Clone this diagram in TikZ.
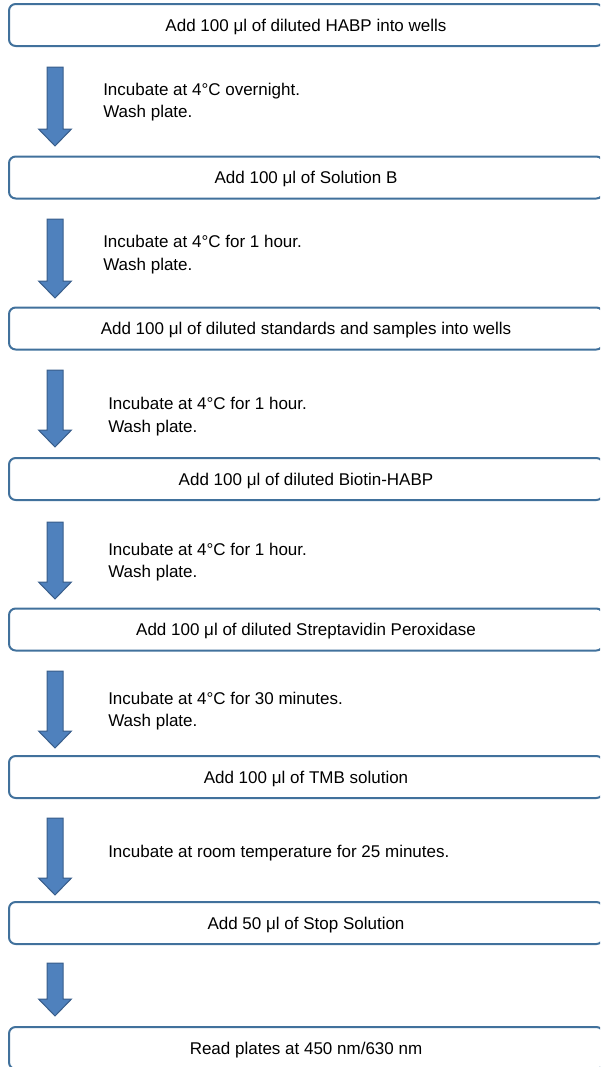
\documentclass[tikz,border=0pt]{standalone}
\usepackage{fontspec}
\setmainfont{Liberation Sans}
\definecolor{stepline}{RGB}{65,113,156}
\definecolor{arrowfill}{RGB}{79,129,189}
\definecolor{arrowline}{RGB}{56,93,138}

\begin{document}
\begin{tikzpicture}[x=0.75pt,y=-0.75pt,
  stepbox/.style={draw=stepline,line width=1.5pt,rounded corners=5pt,fill=white,
    minimum width=445.5pt,minimum height=31.5pt,inner sep=0pt,
    text height=9.3pt,text depth=0pt,font=\fontsize{12.75}{17}\selectfont},
  note/.style={anchor=west,align=left,inner sep=0pt,font=\fontsize{12.75}{17}\selectfont},
  blockarrow/.style={fill=arrowfill,draw=arrowline,line width=0.75pt}]
\useasboundingbox (0,0) rectangle (600,1067);
\clip (0,0) rectangle (600,1067);
% steps
\node[stepbox] (s1) at (306,25) {Add 100 μl of diluted HABP into wells};
\node[stepbox] (s2) at (306,177.5) {Add 100 μl of Solution B};
\node[stepbox] (s3) at (306,328.5) {Add 100 μl of diluted standards and samples into wells};
\node[stepbox] (s4) at (306,479) {Add 100 μl of diluted Biotin-HABP};
\node[stepbox] (s5) at (306,629.5) {Add 100 μl of diluted Streptavidin Peroxidase};
\node[stepbox] (s6) at (306,777) {Add 100 μl of TMB solution};
\node[stepbox] (s7) at (306,923) {Add 50 μl of Stop Solution};
\node[stepbox] (s8) at (306,1048) {Read plates at 450 nm/630 nm};
% block arrows
\draw[blockarrow] (47,67) -- (63,67) -- (63,129) -- (71.5,129) -- (55,146) -- (38.5,129) -- (47,129) -- cycle;
\draw[blockarrow] (47,219) -- (63,219) -- (63,281) -- (71.5,281) -- (55,298) -- (38.5,281) -- (47,281) -- cycle;
\draw[blockarrow] (47,370) -- (63,370) -- (63,430) -- (71.5,430) -- (55,447) -- (38.5,430) -- (47,430) -- cycle;
\draw[blockarrow] (47,522) -- (63,522) -- (63,582) -- (71.5,582) -- (55,599) -- (38.5,582) -- (47,582) -- cycle;
\draw[blockarrow] (47,671) -- (63,671) -- (63,731) -- (71.5,731) -- (55,748) -- (38.5,731) -- (47,731) -- cycle;
\draw[blockarrow] (47,818) -- (63,818) -- (63,878) -- (71.5,878) -- (55,895) -- (38.5,878) -- (47,878) -- cycle;
\draw[blockarrow] (47,963) -- (63,963) -- (63,999) -- (71.5,999) -- (55,1016) -- (38.5,999) -- (47,999) -- cycle;
% incubation notes
\node[note] (n1) at (103,102) {Incubate at 4°C overnight.\\Wash plate.};
\node[note] (n2) at (103,254.5) {Incubate at 4°C for 1 hour.\\Wash plate.};
\node[note] (n3) at (108,416.5) {Incubate at 4°C for 1 hour.\\Wash plate.};
\node[note] (n4) at (108,562) {Incubate at 4°C for 1 hour.\\Wash plate.};
\node[note] (n5) at (108,711) {Incubate at 4°C for 30 minutes.\\Wash plate.};
\node[note] (n6) at (108,853) {Incubate at room temperature for 25 minutes.};
\end{tikzpicture}
\end{document}
